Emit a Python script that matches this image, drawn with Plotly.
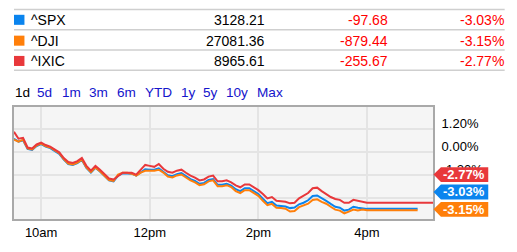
import plotly.graph_objects as go
import pandas as pd

# ---------------- data ----------------
symbols = ["^SPX", "^DJI", "^IXIC"]
prices = ["3128.21", "27081.36", "8965.61"]
changes = ["-97.68", "-879.44", "-255.67"]
pct_changes = ["-3.03%", "-3.15%", "-2.77%"]
colors = ["#0a84ee", "#ff7f0a", "#e8383b"]
range_buttons = ["1d", "5d", "1m", "3m", "6m", "YTD", "1y", "5y", "10y", "Max"]

day = "2020-06-26"
times = pd.date_range(f"{day} 09:30", f"{day} 16:00", freq="5min")

spx = [0.71, 0.56, 0.63, 0.18, 0.13, 0.33, 0.43, 0.30, 0.22, 0.07,
       -0.08, -0.38, -0.61, -0.66, -0.56, -0.40, -0.81, -1.06, -0.81, -1.01,
       -1.22, -1.47, -1.52, -1.22, -1.10, -1.10, -1.12, -1.22, -1.04, -0.89,
       -0.91, -0.91, -0.84, -1.01, -1.20, -1.25, -1.14, -1.09, -1.25, -1.40,
       -1.50, -1.65, -1.60, -1.45, -1.40, -1.70, -1.70, -1.65, -1.75, -1.93,
       -2.03, -1.88, -1.88, -2.03, -2.18, -2.43, -2.66, -2.59, -2.79, -2.81,
       -2.84, -2.92, -2.89, -2.72, -2.64, -2.51, -2.29, -2.26, -2.39, -2.54,
       -2.70, -2.85, -2.90, -3.05, -3.00, -2.85, -2.90, -2.92, -2.96]
dji = [0.66, 0.56, 0.66, 0.20, 0.15, 0.36, 0.46, 0.33, 0.25, 0.10,
       -0.05, -0.35, -0.59, -0.64, -0.54, -0.38, -0.79, -1.04, -0.79, -0.99,
       -1.20, -1.45, -1.50, -1.17, -1.07, -1.07, -1.12, -1.22, -1.06, -0.97,
       -0.96, -0.96, -0.91, -1.06, -1.27, -1.32, -1.21, -1.16, -1.32, -1.47,
       -1.57, -1.72, -1.67, -1.52, -1.47, -1.77, -1.77, -1.72, -1.82, -2.03,
       -2.13, -1.98, -1.98, -2.13, -2.28, -2.54, -2.77, -2.70, -2.90, -2.92,
       -2.95, -3.10, -3.07, -2.87, -2.79, -2.69, -2.49, -2.46, -2.59, -2.69,
       -2.85, -3.00, -3.05, -3.20, -3.10, -3.00, -3.05, -3.00, -3.03]
ixic = [1.07, 0.71, 0.76, 0.25, 0.20, 0.41, 0.51, 0.38, 0.30, 0.15,
        0.00, -0.30, -0.51, -0.56, -0.46, -0.30, -0.71, -0.96, -0.71, -0.91,
        -1.12, -1.37, -1.42, -1.22, -1.07, -1.07, -1.07, -1.17, -0.91, -0.66,
        -0.71, -0.76, -0.61, -0.86, -1.02, -1.07, -0.96, -0.91, -1.07, -1.22,
        -1.32, -1.47, -1.42, -1.27, -1.22, -1.52, -1.52, -1.47, -1.57, -1.73,
        -1.83, -1.68, -1.68, -1.83, -1.98, -2.18, -2.41, -2.34, -2.54, -2.56,
        -2.59, -2.67, -2.64, -2.41, -2.28, -2.13, -1.88, -1.85, -2.03, -2.18,
        -2.34, -2.44, -2.49, -2.64, -2.64, -2.49, -2.54, -2.59, -2.64]
# after-hours flat continuation end times
after_end = [f"{day} 16:56", f"{day} 16:56", f"{day} 17:13"]
series = [spx, dji, ixic]

y_ticks = [1.2, 0.0, -1.2, -2.4]
y_ticktext = ["1.20%", "0.00%", "-1.20%", "-2.40%"]
x_ticks = [f"{day} 10:00", f"{day} 12:00", f"{day} 14:00", f"{day} 16:00"]
x_ticktext = ["10am", "12pm", "2pm", "4pm"]

# ---------------- layout geometry (pixels) ----------------
W, H = 517, 252
L, R, T, B = 12, 433, 107, 223
def PX(x):
    return (x - L) / (R - L)
def PY(y):
    return (B - y) / (B - T)

FONT = "Helvetica, Arial, Liberation Sans, sans-serif"

fig = go.Figure()
tlist = list(times)
for s, col, end in zip(series, colors, after_end):
    xs = tlist + [pd.Timestamp(end)]
    ys = s + [s[-1]]
    fig.add_trace(go.Scatter(x=xs, y=ys, mode="lines",
                             line=dict(color=col, width=2), hoverinfo="skip"))

shapes = []
annotations = []

# table lines
for yl in [6, 27, 48, 69]:
    shapes.append(dict(type="line", xref="paper", yref="paper",
                       x0=PX(12), x1=PX(505), y0=PY(yl), y1=PY(yl),
                       line=dict(color="#cfcfcf", width=1.5)))
row_y = [16.7, 38.3, 59.3]
for i in range(3):
    cy = row_y[i]
    shapes.append(dict(type="rect", xref="paper", yref="paper",
                       x0=PX(12), x1=PX(22.5), y0=PY(cy - 5.2), y1=PY(cy + 5.2),
                       fillcolor=colors[i], line=dict(width=0)))
    annotations.append(dict(text=symbols[i], x=PX(27), y=PY(cy), xref="paper", yref="paper",
                            xanchor="left", yanchor="middle", showarrow=False,
                            font=dict(family=FONT, size=14, color="#000")))
    annotations.append(dict(text=prices[i], x=PX(266.5), y=PY(cy), xref="paper", yref="paper",
                            xanchor="right", yanchor="middle", showarrow=False,
                            font=dict(family=FONT, size=14, color="#000")))
    annotations.append(dict(text=changes[i], x=PX(389.5), y=PY(cy), xref="paper", yref="paper",
                            xanchor="right", yanchor="middle", showarrow=False,
                            font=dict(family=FONT, size=14, color="#ff0000")))
    annotations.append(dict(text=pct_changes[i], x=PX(506), y=PY(cy), xref="paper", yref="paper",
                            xanchor="right", yanchor="middle", showarrow=False,
                            font=dict(family=FONT, size=14, color="#ff0000")))

# range buttons
btn_x = [13.3, 36, 60.7, 87.7, 115.7, 144, 180.3, 202.3, 226, 256.7]
for lab, bx in zip(range_buttons, btn_x):
    annotations.append(dict(text=lab, x=PX(bx - 2.5), y=PY(92.3), xref="paper", yref="paper",
                            xanchor="left", yanchor="middle", showarrow=False,
                            font=dict(family=FONT, size=13.6,
                                      color="#000" if lab == "1d" else "#1515cc")))

# value flags (stacked, sorted by value: IXIC, SPX, DJI)
flag_order = [2, 0, 1]
flag_cy = [177, 195, 213]
for idx, cy in zip(flag_order, flag_cy):
    top, bot = cy - 7.7, cy + 7.7
    path = (f"M {PX(441)} {PY(top)} L {PX(488.5)} {PY(top)} L {PX(488.5)} {PY(bot)} "
            f"L {PX(441)} {PY(bot)} L {PX(433.5)} {PY(cy)} Z")
    shapes.append(dict(type="path", xref="paper", yref="paper", path=path,
                       fillcolor=colors[idx], line=dict(width=0), layer="above"))
    annotations.append(dict(text=f"<b>{pct_changes[idx]}</b>", x=PX(464.5), y=PY(cy),
                            xref="paper", yref="paper", xanchor="center", yanchor="middle",
                            showarrow=False, font=dict(family=FONT, size=13, color="#fff")))

fig.update_layout(
    width=W, height=H,
    margin=dict(l=L, r=W - R, t=T, b=H - B, pad=0),
    paper_bgcolor="#ffffff", plot_bgcolor="#f5f5f5",
    showlegend=False,
    shapes=shapes, annotations=annotations,
    font=dict(family=FONT, size=13, color="#111"),
)
fig.update_xaxes(range=[f"{day} 09:30", f"{day} 17:13"],
                 tickvals=x_ticks, ticktext=x_ticktext,
                 showgrid=True, gridcolor="#e4e4e4", gridwidth=2,
                 showline=True, mirror=True, linecolor="#a9a9a9", linewidth=2,
                 ticks="", zeroline=False, tickfont=dict(size=13, color="#000"),
                 fixedrange=True)
fig.update_yaxes(range=[-3.49, 2.37], side="right",
                 tickvals=y_ticks, ticktext=y_ticktext,
                 showgrid=True, gridcolor="#e4e4e4", gridwidth=2,
                 showline=True, mirror=True, linecolor="#a9a9a9", linewidth=2,
                 ticks="", zeroline=False, ticklabelshift=-6, ticklabelstandoff=4,
                 tickfont=dict(size=13, color="#000"), fixedrange=True)

fig.write_html("out.html")
